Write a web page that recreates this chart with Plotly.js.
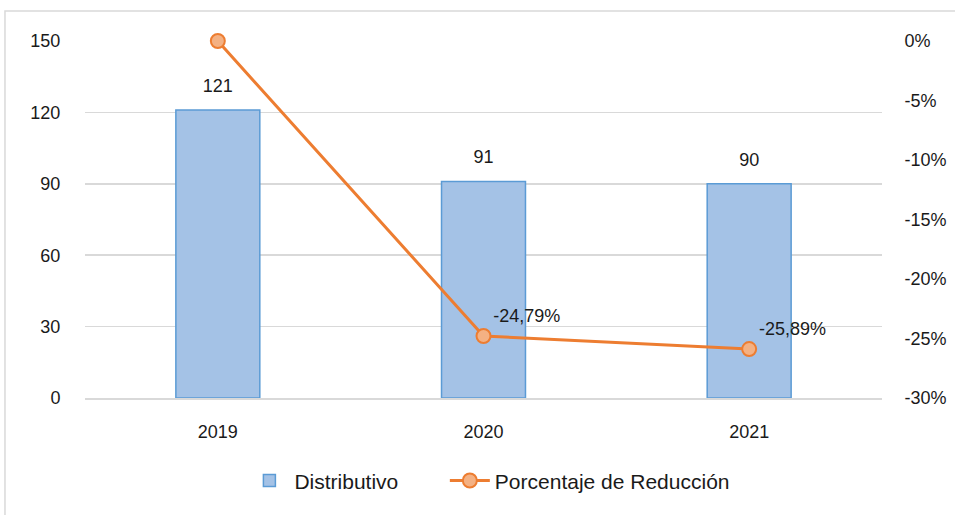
<!DOCTYPE html>
<html>
<head>
<meta charset="utf-8">
<script src="https://cdn.plot.ly/plotly-3.0.1.min.js"></script>
<style>
html,body{margin:0;padding:0;background:#fff;}
#chart{width:955px;height:515px;}
</style>
</head>
<body>
<div id="chart"></div>
<script>
const years = ['2019', '2020', '2021'];
const distributivo = [121, 91, 90];
const reduccion = [0, -24.79, -25.89];
const leftTicks = [0, 30, 60, 90, 120, 150];
const rightTicks = [0, -5, -10, -15, -20, -25, -30];

function fmtPct(v) {
  if (v === 0) return '0%';
  return v.toFixed(2).replace('.', ',') + '%';
}

const font = {family: 'Liberation Sans, Arial, sans-serif', size: 18, color: '#1a1a1a'};
const legendFont = {family: font.family, size: 21, color: '#1a1a1a'};

const bars = {
  type: 'bar',
  name: 'Distributivo',
  x: years,
  y: distributivo,
  width: 0.316,
  marker: {color: '#a4c2e6', line: {color: '#5b9bd5', width: 1.5}},
  yaxis: 'y',
  legend: 'legend'
};

const barLabels = {
  type: 'scatter',
  mode: 'markers+text',
  x: years,
  y: distributivo,
  yaxis: 'y',
  showlegend: false,
  hoverinfo: 'skip',
  marker: {size: 20, color: 'rgba(0,0,0,0)'},
  text: distributivo.map(String),
  textposition: 'top center',
  textfont: font,
  cliponaxis: false
};

const line = {
  type: 'scatter',
  mode: 'lines+markers+text',
  name: 'Porcentaje de Reducción',
  x: years,
  y: reduccion,
  yaxis: 'y2',
  legend: 'legend2',
  line: {color: '#ed7d31', width: 3},
  marker: {symbol: 'circle', size: 14, color: '#f4b183', line: {color: '#ed7d31', width: 2}},
  text: reduccion.map(fmtPct),
  textposition: ['middle right', 'top right', 'top right'],
  textfont: {family: font.family, size: 18, color: ['#ffffff', '#1a1a1a', '#1a1a1a']},
  cliponaxis: false
};

const layout = {
  width: 955,
  height: 515,
  margin: {l: 85, r: 73, t: 41, b: 117},
  paper_bgcolor: '#ffffff',
  plot_bgcolor: '#ffffff',
  font: font,
  showlegend: true,
  legend: {
    orientation: 'h',
    x: 0.2, xanchor: 'left',
    y: -0.232, yanchor: 'middle',
    font: legendFont,
    itemwidth: 40
  },
  legend2: {
    orientation: 'h',
    x: 0.4515, xanchor: 'left',
    y: -0.232, yanchor: 'middle',
    font: legendFont,
    itemwidth: 40
  },
  xaxis: {
    type: 'category',
    showgrid: false,
    showline: true,
    linecolor: '#d9d9d9',
    linewidth: 1.5,
    ticks: 'outside',
    ticklen: 17,
    tickcolor: 'rgba(0,0,0,0)',
    tickfont: font
  },
  yaxis: {
    range: [0, 150],
    tickvals: leftTicks,
    ticktext: leftTicks.map(String),
    showgrid: true,
    gridcolor: '#d9d9d9',
    gridwidth: 1.5,
    zeroline: false,
    showline: false,
    ticks: 'outside',
    ticklen: 20,
    tickcolor: 'rgba(0,0,0,0)',
    tickfont: font
  },
  yaxis2: {
    range: [-30, 0],
    overlaying: 'y',
    side: 'right',
    tickvals: rightTicks,
    ticktext: rightTicks.map(v => v + '%'),
    showgrid: false,
    zeroline: false,
    showline: false,
    ticks: 'outside',
    ticklen: 18,
    tickcolor: 'rgba(0,0,0,0)',
    tickfont: font
  },
  shapes: [{
    type: 'rect', xref: 'paper', yref: 'paper',
    x0: -0.1004, x1: 1.3, y0: -0.6, y1: 1.084,
    line: {color: '#d9d9d9', width: 1.5},
    layer: 'below'
  }]
};

Plotly.newPlot('chart', [bars, barLabels, line], layout, {displayModeBar: false, staticPlot: true});
</script>
</body>
</html>
